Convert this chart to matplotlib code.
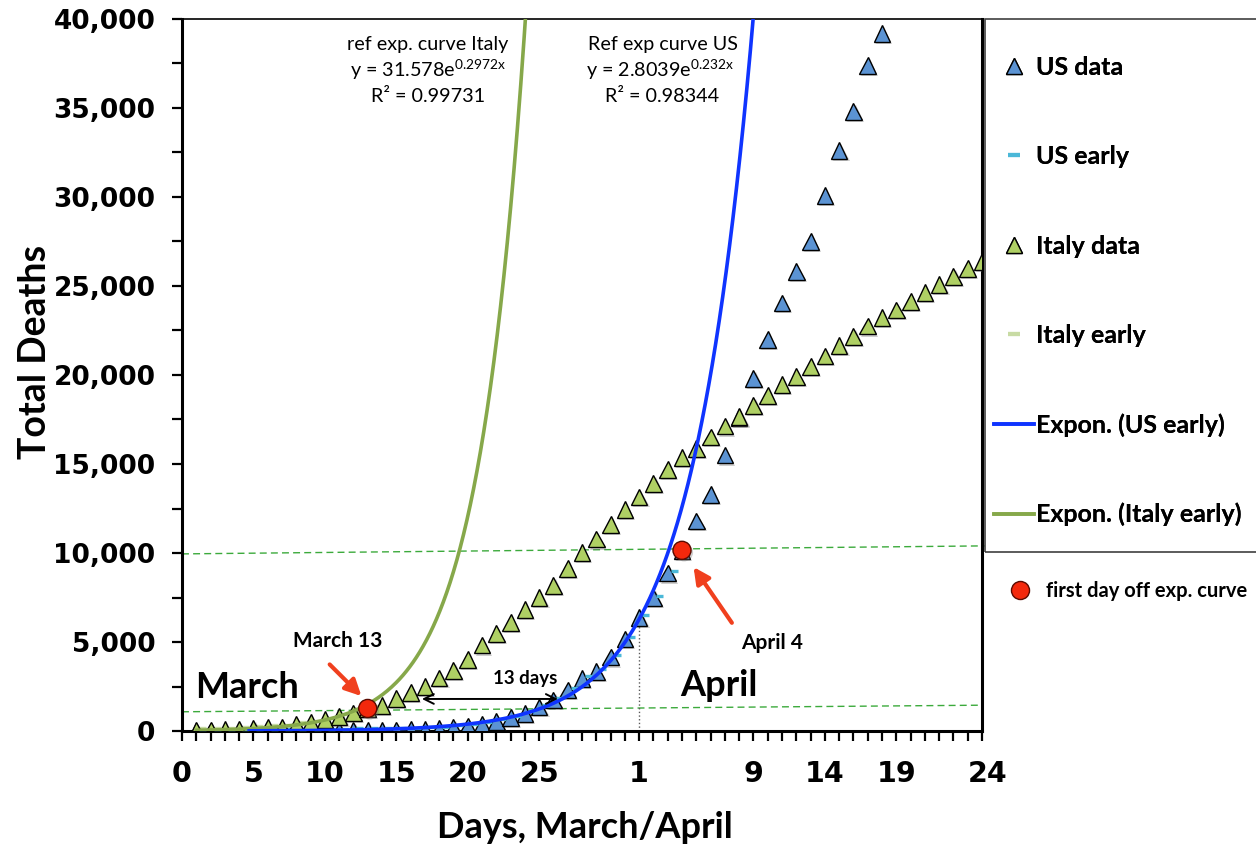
import numpy as np
import matplotlib
matplotlib.use("Agg")
import matplotlib.pyplot as plt
from matplotlib.lines import Line2D
from matplotlib.patches import Rectangle
from matplotlib.path import Path
from matplotlib.ticker import FixedLocator, MultipleLocator, FuncFormatter
import matplotlib.patheffects as pe

plt.rcParams['mathtext.fontset'] = 'custom'
plt.rcParams['mathtext.rm'] = 'Lato'
plt.rcParams['mathtext.it'] = 'Lato:italic'

# cumulative deaths, day 1 = March 1, day 32 = April 1
us_days = list(range(1, 50))
us_deaths = [1, 2, 4, 6, 8, 10, 12, 15, 19, 22, 28, 30, 38, 45, 55, 70, 100, 140,
             200, 280, 400, 550, 750, 1000, 1350, 1750, 2300, 2950, 3350, 4150,
             5170, 6380, 7500, 8870, 10150, 11800, 13300, 15500, 17600, 19800,
             22000, 24050, 25800, 27500, 30100, 32600, 34800, 37400, 39200]
us_early_days = us_days[:34]
us_early = us_deaths[:34]

italy_days = list(range(1, 57))
italy_deaths = [34, 52, 79, 107, 148, 197, 233, 366, 463, 631, 827, 1016, 1266,
                1441, 1809, 2158, 2503, 2978, 3405, 4032, 4825, 5476, 6077, 6820,
                7503, 8165, 9134, 10023, 10779, 11591, 12428, 13155, 13915, 14681,
                15362, 15887, 16523, 17127, 17669, 18279, 18849, 19468, 19899,
                20465, 21067, 21645, 22170, 22745, 23227, 23660, 24114, 24648,
                25085, 25549, 25969, 26384]
italy_early_days = italy_days[:13]
italy_early = italy_deaths[:13]

# exponential trendlines fitted to the early data
italy_a, italy_b = 31.578, 0.2972
us_a, us_b = 2.8039, 0.232
us_shift = 1.25  # series index vs. calendar day

# first day off the exponential curve
off_days = [13, 35]
off_deaths = [italy_deaths[12], us_deaths[34]]

tick_pos = [0, 5, 10, 15, 20, 25, 32, 40, 45, 50, 55]
tick_txt = ['0', '5', '10', '15', '20', '25', '1', '9', '14', '19', '24']

BLUE_TRI = '#5B93D3'
GREEN_TRI = '#AFD064'
BLUE_LINE = '#0F34FF'
OLIVE = '#86A84A'
RED = '#F3280C'
ARROW_RED = '#F0401E'
DASH_GREEN = '#3CAA3C'
CYAN = '#4BB8D8'
PALE = '#C8DBA4'

fig = plt.figure(figsize=(12.56, 8.46), dpi=100)
ax = fig.add_axes([182 / 1256, 1 - 731 / 846, 800 / 1256, 712 / 846])

shadow = [pe.SimplePatchShadow(offset=(1.5, -1.5), shadow_rgbFace='0.45', alpha=0.35), pe.Normal()]
dash = Path([(0.25, 0.15), (1.0, 0.15)], [Path.MOVETO, Path.LINETO])

ax.plot(us_days, us_deaths, ls='none', marker='^', ms=12, mfc=BLUE_TRI, mec='black',
        mew=1.0, zorder=3, path_effects=shadow)
ax.plot(us_early_days, us_early, ls='none', marker=dash, ms=15, mec=CYAN, mfc=CYAN,
        mew=2.4, zorder=3.5)
ax.plot(italy_days, italy_deaths, ls='none', marker='^', ms=12, mfc=GREEN_TRI, mec='black',
        mew=1.0, zorder=4, path_effects=shadow)
ax.plot(italy_early_days, italy_early, ls='none', marker=dash, ms=15, mec=PALE, mfc=PALE,
        mew=2.4, zorder=3.8)

xi = np.linspace(1, 24.5, 300)
ax.plot(xi, italy_a * np.exp(italy_b * xi), color=OLIVE, lw=2.6, zorder=5)
xu = np.linspace(4.7, 41, 300)
ax.plot(xu, us_a * np.exp(us_b * (xu + us_shift)), color=BLUE_LINE, lw=2.6, zorder=5)

ax.plot(off_days, off_deaths, ls='none', marker='o', ms=13, mfc=RED, mec='#5a0a00',
        mew=1.0, zorder=7, path_effects=shadow)

# guide lines
ax.plot([0, 56.2], [9950, 10400], ls=(0, (5, 3)), color=DASH_GREEN, lw=1.0, zorder=2, clip_on=False)
ax.plot([0, 56], [1080, 1450], ls=(0, (5, 3)), color=DASH_GREEN, lw=1.0, zorder=2)
ax.plot([32, 32], [0, 5900], ls=':', color='0.35', lw=1.0, zorder=2)

ax.set_xlim(0, 56)
ax.set_ylim(0, 40000)

ax.xaxis.set_major_locator(FixedLocator(tick_pos))
ax.set_xticklabels(tick_txt)
ax.xaxis.set_minor_locator(MultipleLocator(1))
ax.get_xticklabels()[-1].set_horizontalalignment('left')
ax.yaxis.set_major_locator(MultipleLocator(5000))
ax.yaxis.set_minor_locator(MultipleLocator(2500))
ax.yaxis.set_major_formatter(FuncFormatter(lambda v, p: f'{int(v):,}'))

ax.tick_params(which='both', direction='out', length=7, width=1.6, color='black')
ax.tick_params(axis='x', which='major', pad=14, labelsize=20.5)
ax.tick_params(axis='y', which='major', pad=12, labelsize=19)
for lab in ax.get_xticklabels() + ax.get_yticklabels():
    lab.set_fontweight('bold')
    lab.set_family('DejaVu Sans')

for side in ['left', 'bottom', 'right']:
    ax.spines[side].set_linewidth(2.2)
ax.spines['top'].set_linewidth(1.2)

ax.set_ylabel('Total Deaths', fontsize=27, fontweight='bold', family='Lato')
ax.yaxis.set_label_coords(-0.163, 0.532)
ax.set_xlabel('Days, March/April', fontsize=26, fontweight='bold', family='Lato')
ax.xaxis.set_label_coords(0.504, -0.112)

# trendline equations
txt = dict(ha='center', va='center', fontsize=14.2, family='Lato', zorder=8)
ax.text(17.2, 38590, 'ref exp. curve Italy', **txt)
ax.text(17.2, 37120, r'y = 31.578e$^{\mathrm{0.2972x}}$', **txt)
ax.text(17.2, 35660, 'R² = 0.99731', **txt)
ax.text(33.7, 38590, 'Ref exp curve US', **txt)
ax.text(33.5, 37120, r'y = 2.8039e$^{\mathrm{0.232x}}$', **txt)
ax.text(33.6, 35660, 'R² = 0.98344', **txt)

bold = dict(ha='center', va='center', fontweight='bold', family='Lato', zorder=8)
ax.text(4.55, 2420, 'March', fontsize=26, **bold)
ax.text(37.6, 2530, 'April', fontsize=26, **bold)
ax.text(10.9, 5060, 'March 13', fontsize=15, **bold)
ax.text(41.3, 4950, 'April 4', fontsize=15, **bold)
ax.text(24.0, 2925, '13 days', fontsize=13.5, **bold)

ax.annotate('', xy=(12.7, 1850), xytext=(10.2, 3850),
            arrowprops=dict(arrowstyle='-|>', color=ARROW_RED, lw=3.0, mutation_scale=24), zorder=8)
ax.annotate('', xy=(35.7, 9340), xytext=(38.6, 5950),
            arrowprops=dict(arrowstyle='-|>', color=ARROW_RED, lw=3.0, mutation_scale=24), zorder=8)
ax.annotate('', xy=(16.6, 1800), xytext=(26.5, 1800),
            arrowprops=dict(arrowstyle='<->,head_length=0.7,head_width=0.35', color='black', lw=1.4),
            zorder=8)

# legend panel
handles = [
    Line2D([], [], ls='none', marker='^', ms=12, mfc=BLUE_TRI, mec='black', mew=1.0),
    Line2D([], [], ls='none', marker='_', ms=9, mew=3, color=CYAN),
    Line2D([], [], ls='none', marker='^', ms=12, mfc=GREEN_TRI, mec='black', mew=1.0),
    Line2D([], [], ls='none', marker='_', ms=9, mew=3, color=PALE),
    Line2D([], [], color=BLUE_LINE, lw=2.6),
    Line2D([], [], color=OLIVE, lw=2.6),
]
labels = ['US data', 'US early', 'Italy data', 'Italy early', 'Expon. (US early)', 'Expon. (Italy early)']
leg = fig.legend(handles, labels, loc='upper left', bbox_to_anchor=(994 / 1256, 1 - 56 / 846),
                 frameon=False, labelspacing=2.65, handlelength=1.6, handletextpad=0.06,
                 borderpad=0, borderaxespad=0, prop=dict(family='Lato', weight='bold', size=18))
fig.add_artist(leg)
fig.add_artist(Rectangle((985 / 1256, 1 - 552 / 846), 0.3, 533 / 846, transform=fig.transFigure,
                         fill=False, edgecolor='0.25', lw=1.2))

fig.legend([Line2D([], [], ls='none', marker='o', ms=13, mfc=RED, mec='#5a0a00', mew=1.0)],
           ['first day off exp. curve'], loc='center left',
           bbox_to_anchor=(1000 / 1256, 1 - 591 / 846), frameon=False, handlelength=2.0,
           handletextpad=0.3, borderpad=0, borderaxespad=0,
           prop=dict(family='Lato', weight='bold', size=14.5))

fig.savefig('out.png', dpi=100)
